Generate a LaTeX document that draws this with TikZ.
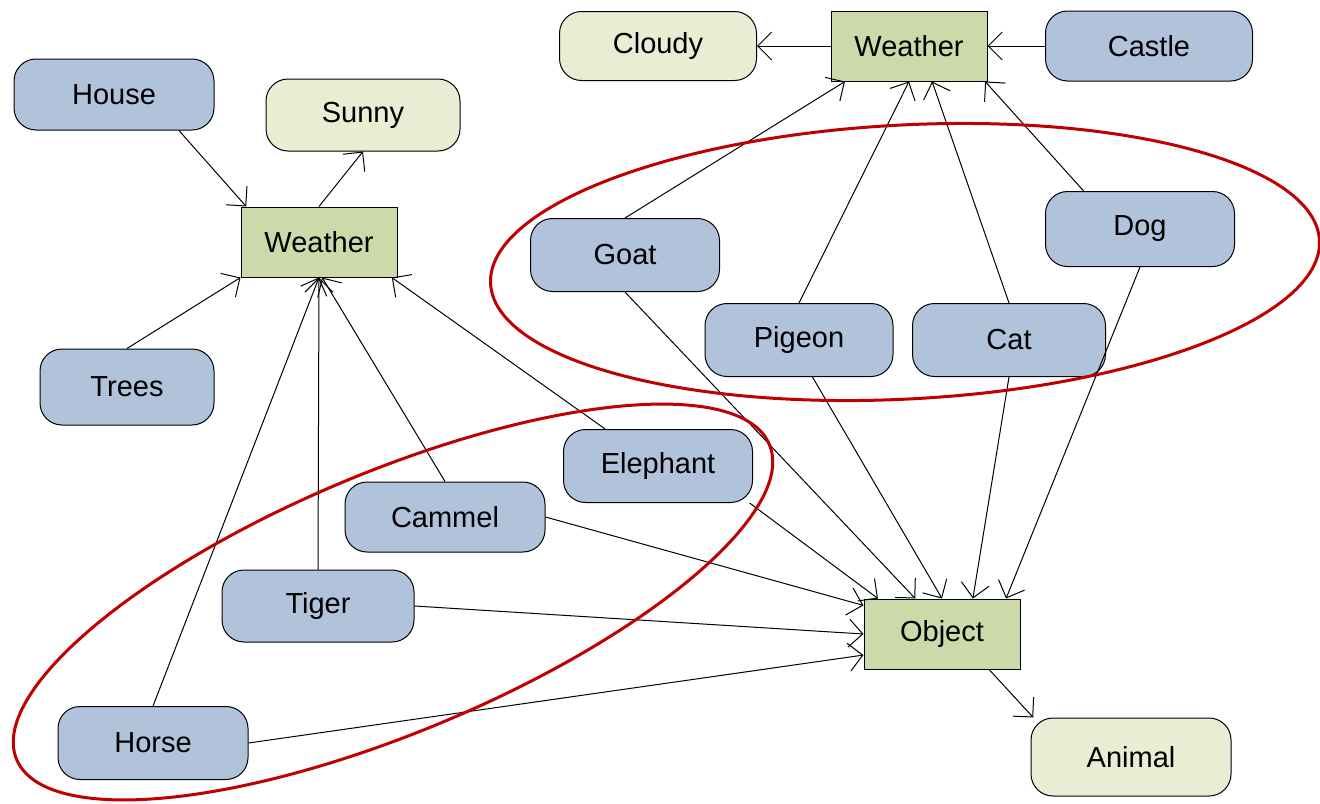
\documentclass[tikz,border=0pt]{standalone}
\usepackage{fontspec}
\setmainfont{Liberation Sans}
\usetikzlibrary{arrows.meta}

\definecolor{boxblue}{RGB}{176,195,219}
\definecolor{boxgreen}{RGB}{204,218,169}
\definecolor{boxpale}{RGB}{233,237,211}
\definecolor{ringred}{RGB}{192,0,0}

\tikzset{
  entity/.style={draw, fill=boxblue, rounded corners=11pt, inner sep=0pt},
  attr/.style={draw, fill=boxpale, rounded corners=11pt, inner sep=0pt},
  relation/.style={draw, fill=boxgreen, minimum width=78pt, minimum height=35pt, inner sep=0pt},
  link/.style={-{Straight Barb[length=7pt,width=14pt]}},
  ring/.style={ringred, line width=1.5pt},
}

\begin{document}
\begin{tikzpicture}[x=0.5pt, y=-0.5pt, font=\fontsize{14.5}{17}\selectfont, line width=0.5pt]
    \useasboundingbox (0,0) rectangle (1320,803);

    % left group
    \node[entity, minimum width=100pt, minimum height=35.5pt] (house) at (114,94.5) {House};
    \node[attr, minimum width=97pt, minimum height=36pt] (sunny) at (363,115) {Sunny};
    \node[relation] (w1) at (319,242) {Weather};
    \node[entity, minimum width=87pt, minimum height=38pt] (trees) at (127,387) {Trees};

    % top group
    \node[attr, minimum width=98.5pt, minimum height=34.5pt] (cloudy) at (658,46) {Cloudy};
    \node[relation] (w2) at (909,46) {Weather};
    \node[entity, minimum width=103.5pt, minimum height=35pt] (castle) at (1149,46) {Castle};
    \node[entity, minimum width=94.5pt, minimum height=36.5pt] (goat) at (625,255) {Goat};
    \node[entity, minimum width=94.5pt, minimum height=37.5pt] (dog) at (1140,229) {Dog};
    \node[entity, minimum width=94pt, minimum height=36.5pt] (pigeon) at (799,340) {Pigeon};
    \node[entity, minimum width=96.5pt, minimum height=36.5pt] (cat) at (1009,340) {Cat};

    % bottom group
    \node[entity, minimum width=94.5pt, minimum height=36.5pt] (elephant) at (658,466) {Elephant};
    \node[entity, minimum width=100pt, minimum height=35pt] (cammel) at (445,517) {Cammel};
    \node[entity, minimum width=96pt, minimum height=36pt] (tiger) at (318,606) {Tiger};
    \node[entity, minimum width=95pt, minimum height=36.5pt] (horse) at (153,743) {Horse};
    \node[relation] (obj) at (942,634) {Object};
    \node[attr, minimum width=100pt, minimum height=39pt] (animal) at (1131,757) {Animal};

    % links to the left weather
    \draw[link] (house.-29) -- (w1.154);
    \draw[link] (w1.north) -- (sunny.south);
    \draw[link] (trees.north) -- (w1.south west);
    \draw[link] (horse.north) -- (w1.south);
    \draw[link] (tiger.north) -- (w1.south);
    \draw[link] (cammel.north) -- (w1.-85);
    \draw[link] (elephant.145) -- (w1.-26);

    % links to the top weather
    \draw[link] (w2.west) -- (cloudy.east);
    \draw[link] (castle.west) -- (w2.east);
    \draw[link] (goat.north) -- (w2.209);
    \draw[link] (pigeon.north) -- (w2.south);
    \draw[link] (cat.north) -- (w2.-57);
    \draw[link] (dog.146) -- (w2.-25);

    % links to the object
    \draw[link] (goat.south) -- (obj.127);
    \draw[link] (pigeon.-70) -- (obj.north);
    \draw[link] (cat.south) -- (obj.49);
    \draw[link] (dog.south) -- (obj.29);
    \draw[link] (elephant.-22) -- (obj.151);
    \draw[link] (cammel.east) -- (obj.160);
    \draw[link] (tiger.east) -- (obj.west);
    \draw[link] (horse.east) -- (obj.195);
    \draw[link] (obj.-37) -- (animal.158);

    % groups
    \draw[ring, rotate around={3:(905,262)}] (905,262) ellipse [x radius=415, y radius=137];
    \draw[ring, rotate around={22.7:(393,602)}] (393,602) ellipse [x radius=408, y radius=130];
\end{tikzpicture}
\end{document}
